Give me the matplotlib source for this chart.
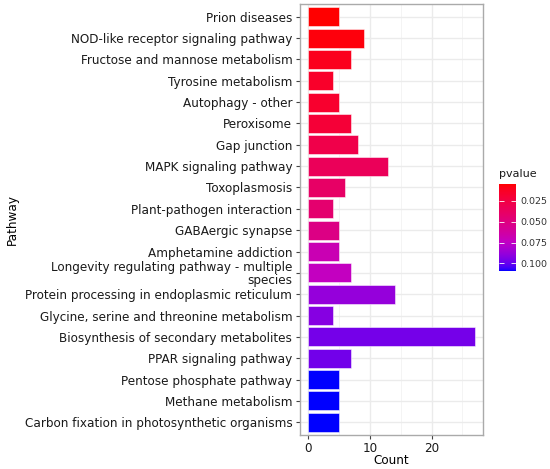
import matplotlib
matplotlib.use("Agg")
import matplotlib.pyplot as plt
import numpy as np
from matplotlib.cm import ScalarMappable
from matplotlib.colors import LinearSegmentedColormap, Normalize

pathways = [
    "Prion diseases",
    "NOD-like receptor signaling pathway",
    "Fructose and mannose metabolism",
    "Tyrosine metabolism",
    "Autophagy - other",
    "Peroxisome",
    "Gap junction",
    "MAPK signaling pathway",
    "Toxoplasmosis",
    "Plant-pathogen interaction",
    "GABAergic synapse",
    "Amphetamine addiction",
    "Longevity regulating pathway - multiple\nspecies",
    "Protein processing in endoplasmic reticulum",
    "Glycine, serine and threonine metabolism",
    "Biosynthesis of secondary metabolites",
    "PPAR signaling pathway",
    "Pentose phosphate pathway",
    "Methane metabolism",
    "Carbon fixation in photosynthetic organisms",
]
counts = [5, 9, 7, 4, 5, 7, 8, 13, 6, 4, 5, 5, 7, 14, 4, 27, 7, 5, 5, 5]
pvalues = [0.0048, 0.007, 0.011, 0.015, 0.017, 0.020, 0.028, 0.034, 0.039,
           0.043, 0.052, 0.069, 0.073, 0.088, 0.092, 0.096, 0.097,
           0.109, 0.109, 0.109]
pv_ticks = [0.025, 0.050, 0.075, 0.100]
count_ticks = [0, 10, 20]


def lab_to_rgb(lab):
    L, a, b = lab[:, 0], lab[:, 1], lab[:, 2]
    fy = (L + 16) / 116
    fx = fy + a / 500
    fz = fy - b / 200

    def finv(t):
        return np.where(t ** 3 > 0.008856, t ** 3, (t - 16 / 116) / 7.787)

    X = 0.95047 * finv(fx)
    Y = finv(fy)
    Z = 1.08883 * finv(fz)
    r = 3.2406 * X - 1.5372 * Y - 0.4986 * Z
    g = -0.9689 * X + 1.8758 * Y + 0.0415 * Z
    bl = 0.0557 * X - 0.2040 * Y + 1.0570 * Z
    rgb = np.clip(np.stack([r, g, bl], axis=1), 0, None)
    rgb = np.where(rgb > 0.0031308, 1.055 * rgb ** (1 / 2.4) - 0.055, 12.92 * rgb)
    return np.clip(rgb, 0, 1)


# red -> blue gradient interpolated in Lab space, brightened a little
red_lab = np.array([53.24, 80.09, 67.20])
blue_lab = np.array([32.30, 79.19, -107.86])
t = np.linspace(0, 1, 64)[:, None]
ramp = lab_to_rgb(red_lab + t * (blue_lab - red_lab))
ramp = 0.75 * ramp + 0.25 * ramp / ramp.max(axis=1, keepdims=True)
cmap = LinearSegmentedColormap.from_list("pv", np.clip(ramp, 0, 1))
norm = Normalize(vmin=min(pvalues), vmax=max(pvalues))

plt.rcParams["font.family"] = "DejaVu Sans"
fig = plt.figure(figsize=(5.5, 4.69), dpi=100)
ax = fig.add_axes((300 / 550, 1 - 435 / 469, 183 / 550, 431 / 469))

y = np.arange(len(pathways))
ax.barh(y, counts, height=0.9, color=cmap(norm(pvalues)),
        edgecolor=(1, 1, 1, 0.6), linewidth=0.6, zorder=3)

ax.set_xlim(-1.35, 28.35)
ax.set_ylim(len(pathways) - 0.4, -0.6)
ax.set_xticks(count_ticks)
ax.set_xticks([5, 15, 25], minor=True)
ax.set_yticks(y)
ax.set_yticklabels(pathways, fontsize=8.65, color="#1a1a1a", linespacing=0.95)
ax.tick_params(axis="x", labelsize=8.65, labelcolor="#1a1a1a", pad=2)
ax.tick_params(axis="y", pad=2.5)
ax.tick_params(which="major", length=3, width=0.8, color="#444444")
ax.tick_params(which="minor", length=0)

ax.grid(which="major", color="#EBEBEB", linewidth=1.0, zorder=0)
ax.grid(which="minor", axis="x", color="#F2F2F2", linewidth=0.6, zorder=0)
ax.set_axisbelow(True)
for s in ax.spines.values():
    s.set_color("#AAAAAA")
    s.set_linewidth(1.0)

ax.set_xlabel("Count", fontsize=8.65)
ax.xaxis.set_label_coords(0.5, -0.043)
ax.set_ylabel("Pathway", fontsize=8.65)
ax.yaxis.set_label_coords(-1.535, 0.5)

# colour legend
cax = fig.add_axes((499 / 550, 1 - 271 / 469, 17 / 550, 87 / 469))
sm = ScalarMappable(norm=norm, cmap=cmap)
cb = fig.colorbar(sm, cax=cax, orientation="vertical")
cb.outline.set_visible(False)
cax.invert_yaxis()
cb.set_ticks(pv_ticks)
cb.set_ticklabels(["0.025", "0.050", "0.075", "0.100"])
cax.tick_params(labelsize=6.8, length=3.5, width=0.6, color="white",
                direction="in", pad=3, labelcolor="#333333")
cax.tick_params(left=True, right=True)
fig.text(499 / 550, 1 - 174 / 469, "pvalue", fontsize=8, va="center",
         ha="left", color="#1a1a1a")

fig.savefig("out.png", dpi=100)
